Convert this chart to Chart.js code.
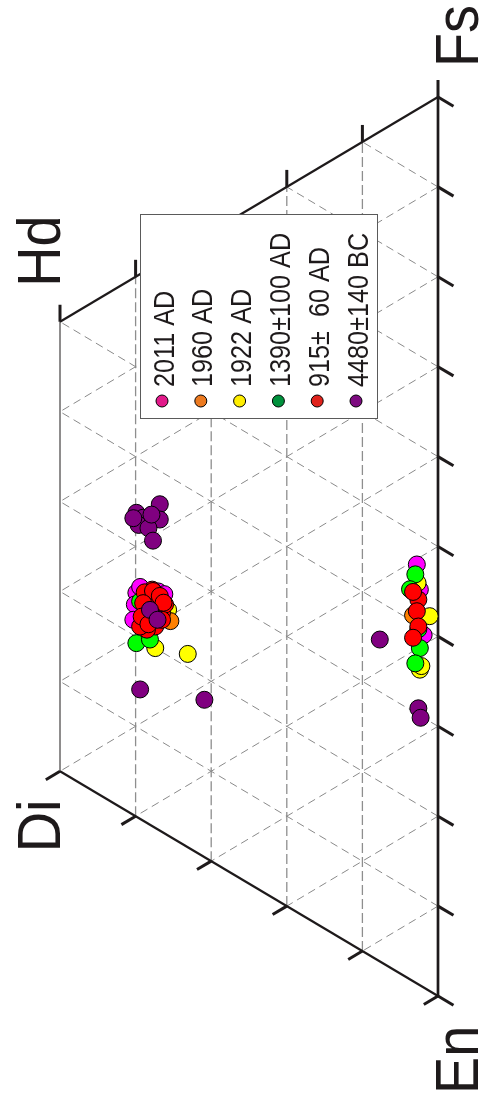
<!DOCTYPE html>
<html>
<head>
<meta charset="utf-8">
<title>Pyroxene quadrilateral</title>
<script src="https://cdn.jsdelivr.net/npm/chart.js@4.4.1/dist/chart.umd.min.js"></script>
<style>
  html, body { margin: 0; padding: 0; background: #ffffff; }
  canvas { display: block; }
</style>
</head>
<body>
<canvas id="quad" width="480" height="1102"></canvas>
<script>
// Sample groups (eruption ages) and legend labels
const categories = ['2011 AD', '1960 AD', '1922 AD', '1390\u00b1100 AD', '915\u00b1  60 AD', '4480\u00b1140 BC'];

// Pyroxene compositions, mol% Wo and Fs (En = 100 - Wo - Fs)
const wo2011 = [39.9, 40.1, 40.3, 37.0, 36.2, 39.4, 2.8, 2.4, 1.9];
const fs2011 = [24.9, 23.5, 21.7, 26.5, 26.6, 25.8, 46.6, 44.0, 39.2];

const wo1960 = [35.4, 3.3];
const fs1960 = [24.0, 40.7];

const wo1922 = [35.7, 37.4, 33.1, 2.7, 1.1, 2.4, 2.2];
const fs1922 = [25.1, 20.0, 21.5, 44.6, 41.7, 35.1, 35.6];

const wo1390 = [39.4, 39.9, 38.1, 3.0, 3.7, 2.4, 3.0, 2.6];
const fs1390 = [24.2, 19.3, 20.6, 45.4, 43.4, 37.5, 35.5, 39.5];

const wo915 = [38.3, 37.0, 39.0, 37.4, 38.5, 36.5, 37.9, 39.4, 37.2, 37.8, 36.1,
               38.8, 37.7, 36.8, 39.0, 39.2, 38.3, 36.5, 36.3,
               2.6, 2.8, 2.6, 3.3, 3.3];
const fs915 = [25.5, 25.6, 22.7, 22.4, 21.5, 24.4, 24.8, 21.4, 23.3, 26.3, 25.5,
               25.5, 26.2, 26.1, 24.2, 22.6, 22.2, 23.6, 25.6,
               42.8, 41.4, 39.8, 38.2, 43.3];

const wo4480 = [36.8, 39.9, 39.0, 36.8, 39.6, 38.3, 37.7, 40.3, 37.9, 38.1, 37.1, 39.4, 30.9, 7.7, 2.6, 2.3];
const fs4480 = [36.3, 33.8, 33.7, 34.6, 32.6, 32.9, 31.8, 33.0, 34.6, 23.9, 23.3, 14.4, 17.5, 35.8, 30.7, 29.8];

// Corner end-members and grid steps (mol%)
const cornerLabels = ['Di', 'Hd', 'En', 'Fs'];
const woSteps = [0, 10, 20, 30, 40, 50];
const fsSteps = [0, 10, 20, 30, 40, 50, 60, 70, 80, 90, 100];

const pointColors  = ['#ff00ff', '#ff8000', '#ffff00', '#00ff00', '#ff0000', '#800080'];
const legendColors = ['#e2198a', '#ec7a20', '#ffee00', '#00913c', '#e0231c', '#7d0a80'];
const drawOrder    = [5, 2, 4, 3, 1, 0];

const woSets = [wo2011, wo1960, wo1922, wo1390, wo915, wo4480];
const fsSets = [fs2011, fs1960, fs1922, fs1390, fs915, fs4480];

// Quadrilateral projection: x = Wo, y = Fs + Wo/2
function project(wo, fs) {
  return wo.map((w, i) => ({ x: w, y: fs[i] + w / 2 }));
}

const datasets = categories.map((label, i) => ({
  label: label,
  data: project(woSets[i], fsSets[i]),
  pointRadius: 8.5,
  pointHoverRadius: 8.5,
  pointBackgroundColor: pointColors[i],
  pointBorderColor: '#000000',
  pointBorderWidth: 1,
  order: drawOrder[i],
  clip: false
}));

const INK = '#1e1a1b';

function rotatedText(ctx, text, bx, sy, font, squeeze) {
  ctx.save();
  ctx.translate(bx, sy);
  ctx.rotate(-Math.PI / 2);
  ctx.scale(squeeze, 1);
  ctx.font = font;
  ctx.textAlign = 'left';
  ctx.textBaseline = 'alphabetic';
  ctx.fillStyle = INK;
  ctx.fillText(text, 0, 0);
  ctx.restore();
}

const quadPlugin = {
  id: 'quadFrame',
  beforeDatasetsDraw(chart) {
    const ctx = chart.ctx;
    const sx = chart.scales.x, sy = chart.scales.y;
    const pos = (wo, fs) => [sx.getPixelForValue(wo), sy.getPixelForValue(fs + wo / 2)];
    const seg = (a, b) => { ctx.beginPath(); ctx.moveTo(a[0], a[1]); ctx.lineTo(b[0], b[1]); ctx.stroke(); };

    ctx.save();
    // dashed grid: Wo isopleths
    ctx.strokeStyle = '#8e8e8e';
    ctx.lineWidth = 1.3;
    ctx.setLineDash([10, 4]);
    woSteps.filter(w => w > 0 && w < 50).forEach(w => seg(pos(w, 0), pos(w, 100 - w)));
    // Fs and En isopleths
    ctx.strokeStyle = '#8a8a8a';
    ctx.lineWidth = 1;
    ctx.setLineDash([8, 5]);
    fsSteps.filter(f => f > 0 && f < 100).forEach(f => {
      const wEnd = Math.min(50, 100 - f);
      seg(pos(0, f), pos(wEnd, f));
      const e = f;
      const wEnd2 = Math.min(50, 100 - e);
      seg(pos(0, 100 - e), pos(wEnd2, 100 - e - wEnd2));
    });
    ctx.setLineDash([]);

    // outline
    ctx.strokeStyle = INK;
    ctx.lineCap = 'butt';
    ctx.lineWidth = 1;
    seg(pos(50, 0), pos(50, 50));
    ctx.lineWidth = 2.2;
    seg(pos(50, 0), pos(0, 0));
    seg(pos(0, 100), pos(50, 50));
    ctx.lineWidth = 2.7;
    seg(pos(0, 0), pos(0, 100));

    // tick directions follow the grid families
    const o = pos(0, 0);
    const dl = pos(1, -1), dr = pos(-1, 0);
    const norm = (p, len) => {
      const dx = p[0] - o[0], dy = p[1] - o[1], l = Math.hypot(dx, dy);
      return [dx / l * len, dy / l * len];
    };
    const vLeft = norm(dl, 16.5), vRight = norm(dr, 18);
    ctx.lineWidth = 3;
    woSteps.forEach(w => {
      const b = pos(w, 0);
      seg(b, [b[0] + vLeft[0], b[1] + vLeft[1]]);
      const t = pos(w, 100 - w);
      seg(t, [t[0], t[1] - 17]);
    });
    fsSteps.forEach(f => {
      const r = pos(0, f);
      seg(r, [r[0] + vRight[0], r[1] + vRight[1]]);
    });
    ctx.restore();

    // end-member labels
    const big = '62px "Liberation Sans", Arial, sans-serif';
    const di = pos(50, 0), hd = pos(50, 50), en = pos(0, 0), fsP = pos(0, 100);
    rotatedText(ctx, cornerLabels[0], di[0], di[1] + 81, big, 0.9);
    rotatedText(ctx, cornerLabels[1], hd[0], hd[1] - 35, big, 0.9);
    rotatedText(ctx, cornerLabels[2], en[0] + 40, en[1] + 98, big, 0.9);
    rotatedText(ctx, cornerLabels[3], fsP[0] + 40, fsP[1] - 30, big, 0.9);
  },
  afterDatasetsDraw(chart) {
    const ctx = chart.ctx;
    const box = { x: 140.5, y: 214.5, w: 237, h: 204 };
    ctx.save();
    ctx.fillStyle = '#ffffff';
    ctx.fillRect(box.x, box.y, box.w, box.h);
    ctx.strokeStyle = '#5a5a5a';
    ctx.lineWidth = 1;
    ctx.strokeRect(box.x, box.y, box.w, box.h);
    ctx.restore();

    const font = '29px "Liberation Sans", Arial, sans-serif';
    categories.forEach((label, i) => {
      const mx = 162 + i * 38.8, my = 401;
      ctx.save();
      ctx.beginPath();
      ctx.arc(mx, my, 6, 0, Math.PI * 2);
      ctx.fillStyle = legendColors[i];
      ctx.fill();
      ctx.lineWidth = 1;
      ctx.strokeStyle = '#000000';
      ctx.stroke();
      ctx.restore();
      rotatedText(ctx, label, mx + 11.5, 387, font, 0.87);
    });
  }
};

new Chart(document.getElementById('quad'), {
  type: 'scatter',
  data: { datasets: datasets },
  options: {
    responsive: false,
    animation: false,
    devicePixelRatio: 1,
    events: [],
    layout: { padding: { left: 60, right: 42, top: 97, bottom: 106 } },
    scales: {
      x: { type: 'linear', reverse: true, min: 0, max: 50, display: false },
      y: { type: 'linear', min: 0, max: 100, display: false }
    },
    plugins: { legend: { display: false }, tooltip: { enabled: false } }
  },
  plugins: [quadPlugin]
});
</script>
</body>
</html>
